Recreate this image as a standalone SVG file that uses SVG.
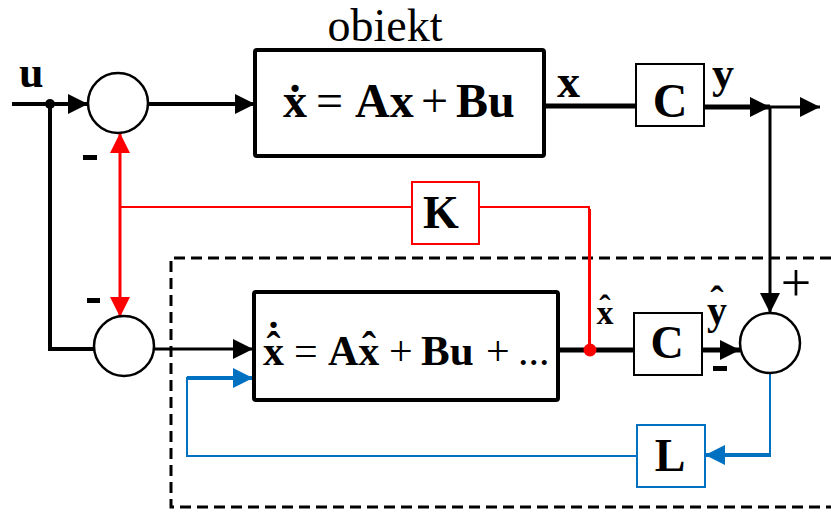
<svg xmlns="http://www.w3.org/2000/svg" width="831" height="513" viewBox="0 0 831 513">
<style>
.t{font-family:"Liberation Serif","Times New Roman",serif;fill:#000}
.b{font-weight:bold}
.blk{fill:none;stroke:#000;stroke-width:4}
.sum{fill:#fff;stroke:#000;stroke-width:2.5}
.w{fill:#000;stroke:none}
</style>
<defs>
<marker id="ab" markerUnits="userSpaceOnUse" markerWidth="22" markerHeight="22" refX="20" refY="10" orient="auto"><path d="M0,0 L20,10 L0,20 z" fill="#000"/></marker>
<marker id="ar" markerUnits="userSpaceOnUse" markerWidth="22" markerHeight="22" refX="20" refY="10" orient="auto"><path d="M0,0 L20,10 L0,20 z" fill="#FF0000"/></marker>
<marker id="au" markerUnits="userSpaceOnUse" markerWidth="22" markerHeight="22" refX="20" refY="10" orient="auto"><path d="M0,0 L20,10 L0,20 z" fill="#0070C0"/></marker>
</defs>

<g id="observer-frame">
<path d="M831,258 H171 V507 H831" fill="none" stroke="#000" stroke-width="3" stroke-dasharray="11,6"/>
</g>

<g id="connectors">
<path d="M12,104 H88" fill="none" stroke="#000" stroke-width="4" marker-end="url(#ab)"/>
<path d="M148,104 H255" fill="none" stroke="#000" stroke-width="4" marker-end="url(#ab)"/>
<path d="M545,106 H636" fill="none" stroke="#000" stroke-width="5"/>
<path d="M704,107 H770" fill="none" stroke="#000" stroke-width="5" marker-end="url(#ab)"/>
<path d="M768,107 H820" fill="none" stroke="#000" stroke-width="3" marker-end="url(#ab)"/>
<path d="M770,107 V313" fill="none" stroke="#000" stroke-width="3" marker-end="url(#ab)"/>
<path d="M50,104 V349 H94" fill="none" stroke="#000" stroke-width="4"/>
<path d="M154,349 H253" fill="none" stroke="#000" stroke-width="3" marker-end="url(#ab)"/>
<path d="M557,350 H634" fill="none" stroke="#000" stroke-width="5"/>
<path d="M702,350 H740" fill="none" stroke="#000" stroke-width="5" marker-end="url(#ab)"/>
<circle cx="50" cy="104" r="5" fill="#000"/>
<path d="M120,200 V133" fill="none" stroke="#FF0000" stroke-width="3" marker-end="url(#ar)"/>
<path d="M120,200 V317" fill="none" stroke="#FF0000" stroke-width="3" marker-end="url(#ar)"/>
<path d="M120,207 H412" fill="none" stroke="#FF0000" stroke-width="2"/>
<path d="M479,207 H589 V350" fill="none" stroke="#FF0000" stroke-width="2"/>
<path d="M589.5,209 V350" fill="none" stroke="#FF0000" stroke-width="3"/>
<circle cx="590" cy="350" r="6.5" fill="#FF0000"/>
<path d="M770,374 V455" fill="none" stroke="#0070C0" stroke-width="2"/>
<path d="M771,455 H705" fill="none" stroke="#0070C0" stroke-width="4" marker-end="url(#au)"/>
<path d="M637,456 H187 V378 H253" fill="none" stroke="#0070C0" stroke-width="2"/>
<path d="M187,378 H253" fill="none" stroke="#0070C0" stroke-width="4" marker-end="url(#au)"/>
</g>

<g id="sum-top">
<circle class="sum" cx="118" cy="103" r="30"/>
</g>
<g id="sum-bottom">
<circle class="sum" cx="124" cy="346" r="30"/>
</g>
<g id="sum-right">
<circle class="sum" cx="770" cy="343" r="30"/>
</g>

<g id="plant">
<rect class="blk" x="255" y="50" width="289" height="106" rx="2"/>
<text class="t" x="385" y="41" font-size="46" text-anchor="middle">obiekt</text>
<text class="t b" x="283" y="117" font-size="48">x</text>
<text class="t b" x="295" y="117" font-size="48" text-anchor="middle" dy="2">˙</text>
<text class="t" x="316" y="117" font-size="48">=</text>
<text class="t b" x="355" y="117" font-size="48">Ax</text>
<text class="t" x="421" y="117" font-size="48">+</text>
<text class="t b" x="456" y="117" font-size="48">Bu</text>
</g>

<g id="C-top">
<rect x="636" y="64" width="68" height="62" fill="#fff" stroke="#000" stroke-width="2"/>
<text class="t b" x="670" y="117" font-size="48" text-anchor="middle">C</text>
</g>

<g id="observer">
<rect class="blk" x="254" y="292" width="304" height="108" rx="2"/>
<text class="t b" x="263" y="365" font-size="42">x</text>
<text class="t b" x="273.5" y="365" font-size="42" text-anchor="middle" dy="-4">ˆ</text>
<text class="t b" x="273.5" y="365" font-size="42" text-anchor="middle" dy="-14">˙</text>
<text class="t" x="294" y="365" font-size="42">=</text>
<text class="t b" x="328" y="365" font-size="42">Ax</text>
<text class="t b" x="369" y="365" font-size="42" text-anchor="middle" dy="-4">ˆ</text>
<text class="t" x="389" y="365" font-size="42">+</text>
<text class="t b" x="421" y="365" font-size="43">Bu</text>
<text class="t" x="486" y="365" font-size="42">+</text>
<text class="t" x="518" y="365" font-size="42">...</text>
</g>

<g id="C-bottom">
<rect x="634" y="313" width="68" height="62" fill="#fff" stroke="#000" stroke-width="2"/>
<text class="t b" x="667" y="358" font-size="46" text-anchor="middle">C</text>
</g>

<g id="K">
<rect x="412" y="182" width="67" height="62" fill="#fff" stroke="#FF0000" stroke-width="2"/>
<text class="t b" x="441" y="228" font-size="46" text-anchor="middle">K</text>
</g>

<g id="L">
<rect x="637" y="425" width="68" height="62" fill="#fff" stroke="#0070C0" stroke-width="2"/>
<text class="t b" x="670" y="471" font-size="46" text-anchor="middle">L</text>
</g>

<g id="labels">
<text class="t b" x="19" y="87" font-size="44">u</text>
<text class="t b" x="557" y="97" font-size="46">x</text>
<text class="t b" x="712" y="88" font-size="44">y</text>
<text class="t b" x="605" y="324" font-size="34" text-anchor="middle">x</text>
<text class="t b" x="605" y="324" font-size="34" text-anchor="middle" dy="-5">ˆ</text>
<text class="t b" x="717" y="324" font-size="40" text-anchor="middle">y</text>
<text class="t b" x="717" y="324" font-size="40" text-anchor="middle" dy="-10">ˆ</text>
<text class="t" x="796" y="301" font-size="54" text-anchor="middle">+</text>
<rect class="w" x="83" y="155" width="14" height="5"/>
<rect class="w" x="87" y="298" width="13" height="5"/>
<rect class="w" x="713" y="366" width="14" height="5"/>
</g>
</svg>
